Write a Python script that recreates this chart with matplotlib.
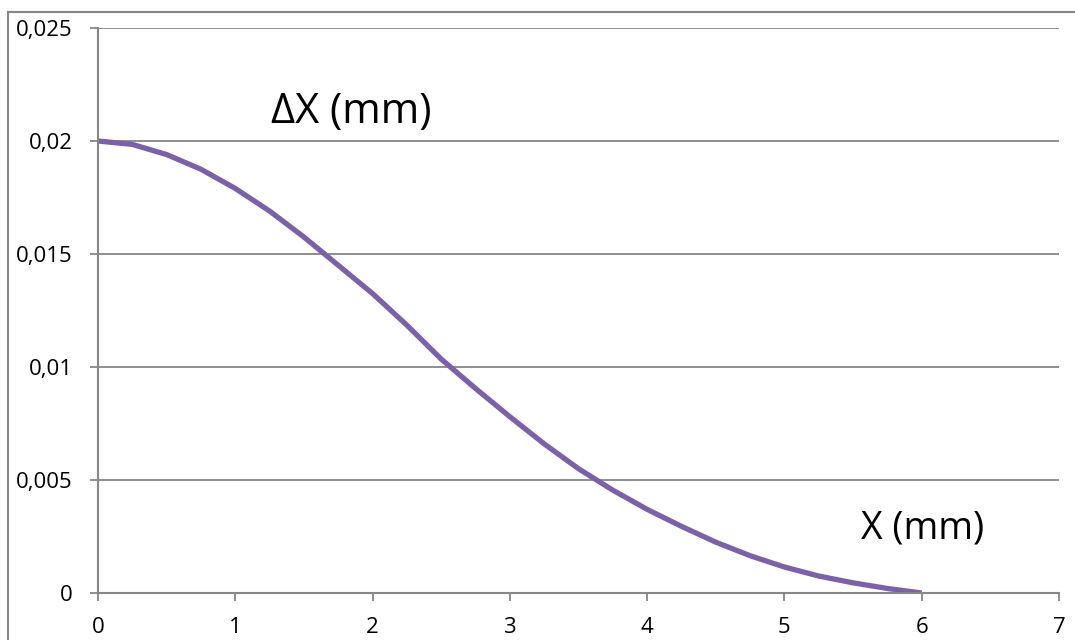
import matplotlib
matplotlib.use("Agg")
import matplotlib.pyplot as plt
from matplotlib.lines import Line2D

# values (x in mm, dX in mm)
x = [0, 0.25, 0.5, 0.75, 1.0, 1.25, 1.5, 1.75, 2.0, 2.25, 2.5, 2.75, 3.0,
     3.25, 3.5, 3.75, 4.0, 4.25, 4.5, 4.75, 5.0, 5.25, 5.5, 5.75, 6.0]
dx = [0.02000, 0.01985, 0.01940, 0.01875, 0.01790, 0.01690, 0.01575, 0.01450,
      0.01325, 0.01185, 0.01035, 0.00905, 0.00780, 0.00660, 0.00550, 0.00455,
      0.00370, 0.00295, 0.00225, 0.00165, 0.00115, 0.00075, 0.00045, 0.00020,
      0.00000]

xticks = [0, 1, 2, 3, 4, 5, 6, 7]
yticks = [0, 0.005, 0.01, 0.015, 0.02, 0.025]
ylabels = ["0", "0,005", "0,01", "0,015", "0,02", "0,025"]

grey = "#868686"
plt.rcParams["font.family"] = ["Open Sans", "DejaVu Sans"]

fig = plt.figure(figsize=(10.75, 6.4), dpi=100)
ax = fig.add_axes([98/1075, 1 - 593/640, (1059 - 98)/1075, (593 - 28)/640])

ax.plot(x, dx, color="#7B61A8", lw=3.8, solid_capstyle="butt",
        solid_joinstyle="round")

ax.set_xlim(0, 7)
ax.set_ylim(0, 0.025)
ax.set_xticks(xticks)
ax.set_yticks(yticks)
ax.set_yticklabels(ylabels)
ax.yaxis.grid(True, color=grey, lw=1.3)
ax.set_axisbelow(True)
for s in ["top", "right"]:
    ax.spines[s].set_visible(False)
for s in ["left", "bottom"]:
    ax.spines[s].set_color(grey)
    ax.spines[s].set_linewidth(1.5)
ax.tick_params(axis="both", direction="out", color=grey, width=1.3, length=6,
               labelsize=16)
ax.tick_params(axis="y", pad=12)
ax.tick_params(axis="x", pad=11)

ax.text(0.18, 0.851, "ΔX (mm)", transform=ax.transAxes, fontsize=30,
        ha="left", va="center")
ax.text(0.794, 0.115, "X (mm)", transform=ax.transAxes, fontsize=27,
        ha="left", va="center")

# outer chart border
fig.add_artist(Line2D([8/1075, 8/1075], [0, 1 - 12/640], transform=fig.transFigure,
                      color=grey, lw=1.5))
fig.add_artist(Line2D([8/1075, 1], [1 - 12/640, 1 - 12/640], transform=fig.transFigure,
                      color=grey, lw=1.5))

fig.savefig("out.png", dpi=100, facecolor="white")
